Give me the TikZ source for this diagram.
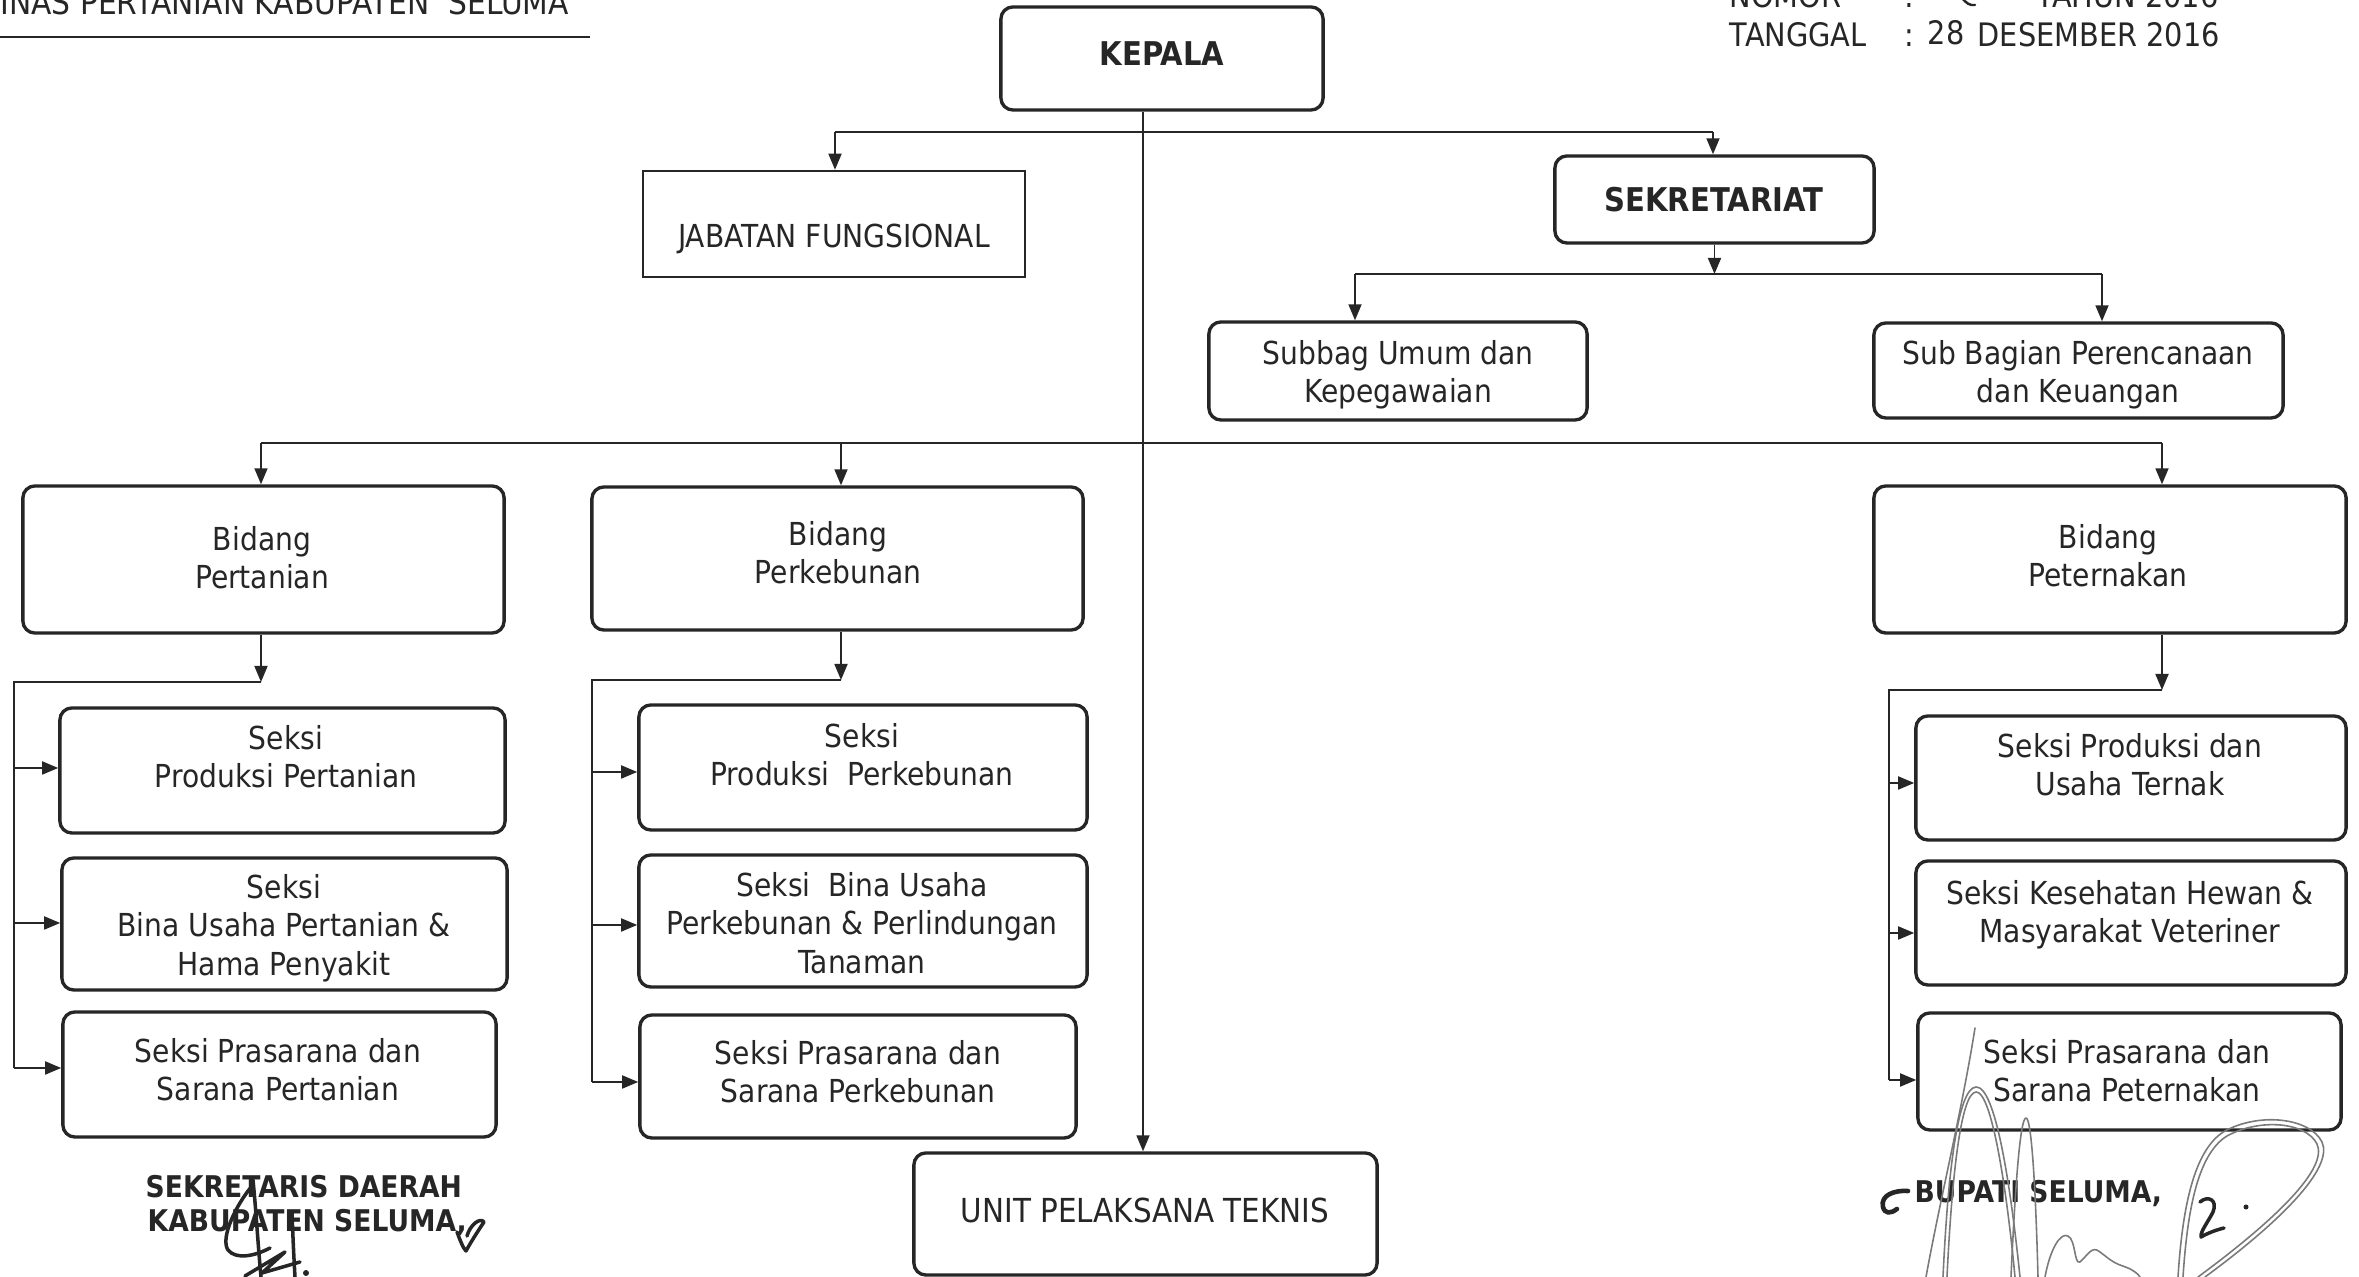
\documentclass[tikz,border=0pt]{standalone}
\usepackage{fontspec}
\setmainfont{DejaVu Sans}[FakeStretch=0.89]
\usetikzlibrary{arrows.meta}
\definecolor{ink}{HTML}{262626}
\definecolor{pencil}{HTML}{7A7A7A}
\tikzset{
  box/.style={draw=ink, line width=0.95pt, rounded corners=0.12cm, inner sep=0pt},
  plainbox/.style={draw=ink, line width=0.7pt, inner sep=0pt},
  txt/.style={text=ink, align=center, inner sep=0pt, font=\fontsize{9}{10.9}\selectfont},
  btxt/.style={text=ink, align=center, inner sep=0pt, font=\fontsize{9.3}{11}\selectfont\bfseries},
  hdr/.style={text=ink, inner sep=0pt, font=\fontsize{9.2}{11}\selectfont},
  sigtxt/.style={text=ink, inner sep=0pt, font=\fontsize{8.5}{9.6}\selectfont\bfseries},
  conn/.style={draw=ink, line width=0.5pt},
  arr/.style={conn, -{Triangle[length=0.16cm,width=0.13cm]}},
  pen/.style={draw=pencil, line width=0.45pt, line cap=round, line join=round},
  hand/.style={draw=ink, line width=1pt, line cap=round, line join=round},
}
\begin{document}
\begin{tikzpicture}[x=0.01cm, y=-0.01cm]
\useasboundingbox (0,0) rectangle (2359,1277);
\clip (0,0) rectangle (2359,1277);
\fill[white] (0,0) rectangle (2359,1277);

% ---------- headers ----------
\node[hdr, font=\fontsize{9.5}{11}\selectfont, anchor=base west] (dinas) at (-23,15) {DINAS PERTANIAN KABUPATEN\ \ SELUMA};
\draw[conn, line width=0.6pt] (0,37) -- (590,37);

\node[hdr, anchor=base west] (nomor) at (1729,8) {NOMOR};
\node[hdr, anchor=base west] (nomorc) at (1904,8) {:};
\node[hdr, anchor=base west] (tahun) at (2036,8) {TAHUN 2016};
\draw[hand, line width=0.7pt] (1962,-2) .. controls (1966,3) and (1970,6) .. (1975,5);
\node[hdr, anchor=base west] (tgl) at (1729,47) {TANGGAL};
\node[hdr, anchor=base west] (tglc) at (1904,47) {:};
\node[hdr, anchor=base west] (tglh) at (1927,45) {28};
\node[hdr, anchor=base west] (tglb) at (1977,47) {DESEMBER 2016};

% ---------- boxes ----------
\node[box, minimum width=3.22cm, minimum height=1.03cm] (kepala) at (1162,58.5) {};
\node[btxt] (kepala-t) at (1162,54) {KEPALA};

\node[plainbox, minimum width=3.82cm, minimum height=1.06cm] (jab) at (834,224) {};
\node[txt] (jab-t) at (834,239) {JABATAN FUNGSIONAL};

\node[box, minimum width=3.19cm, minimum height=0.87cm] (sek) at (1714.5,199.5) {};
\node[btxt] (sek-t) at (1714,200) {SEKRETARIAT};

\node[box, minimum width=3.78cm, minimum height=0.98cm] (subbag) at (1398,371) {};
\node[txt] (subbag-t) at (1398,375) {Subbag Umum dan\\Kepegawaian};

\node[box, minimum width=4.09cm, minimum height=0.95cm] (subbagb) at (2078.5,370.5) {};
\node[txt] (subbagb-t) at (2078,375) {Sub Bagian Perencanaan\\dan Keuangan};

\node[box, minimum width=4.81cm, minimum height=1.47cm] (bpt) at (263.5,559.5) {};
\node[txt] (bpt-t) at (262,558) {Bidang\\Pertanian};

\node[box, minimum width=4.91cm, minimum height=1.43cm] (bpk) at (837.5,558.5) {};
\node[txt] (bpk-t) at (838,553) {Bidang\\Perkebunan};

\node[box, minimum width=4.72cm, minimum height=1.47cm] (bpr) at (2110,559.5) {};
\node[txt] (bpr-t) at (2108,556) {Bidang\\Peternakan};

% Pertanian sections
\node[box, minimum width=4.45cm, minimum height=1.25cm] (pt1) at (282.5,770.5) {};
\node[txt] (pt1-t) at (286,757) {Seksi\\Produksi Pertanian};
\node[box, minimum width=4.45cm, minimum height=1.32cm] (pt2) at (284.5,924) {};
\node[txt] (pt2-t) at (284,928) {Seksi\\Bina Usaha Pertanian \&\\Hama Penyakit};
\node[box, minimum width=4.33cm, minimum height=1.25cm] (pt3) at (279.5,1074.5) {};
\node[txt] (pt3-t) at (278,1070) {Seksi Prasarana dan\\Sarana Pertanian};

% Perkebunan sections
\node[box, minimum width=4.48cm, minimum height=1.25cm] (pk1) at (863,767.5) {};
\node[txt] (pk1-t) at (862,755) {Seksi\\Produksi\ \ Perkebunan};
\node[box, minimum width=4.48cm, minimum height=1.32cm] (pk2) at (863,921) {};
\node[txt] (pk2-t) at (862,923) {Seksi\ \ Bina Usaha\\Perkebunan \& Perlindungan\\Tanaman};
\node[box, minimum width=4.36cm, minimum height=1.23cm] (pk3) at (858,1076.5) {};
\node[txt] (pk3-t) at (858,1072) {Seksi Prasarana dan\\Sarana Perkebunan};

% Peternakan sections
\node[box, minimum width=4.30cm, minimum height=1.24cm] (pr1) at (2131,778) {};
\node[txt] (pr1-t) at (2130,765) {Seksi Produksi dan\\Usaha Ternak};
\node[box, minimum width=4.30cm, minimum height=1.24cm] (pr2) at (2131,923) {};
\node[txt] (pr2-t) at (2130,915) {Seksi Kesehatan Hewan \&\\Masyarakat Veteriner};
\node[box, minimum width=4.23cm, minimum height=1.17cm] (pr3) at (2129.5,1071.5) {};
\node[txt] (pr3-t) at (2127,1071) {Seksi Prasarana dan\\Sarana Peternakan};

\node[box, minimum width=4.63cm, minimum height=1.22cm] (upt) at (1145.5,1214) {};
\node[txt, font=\fontsize{9.4}{11}\selectfont] (upt-t) at (1145,1210) {UNIT PELAKSANA TEKNIS};

% ---------- connectors ----------
\coordinate (kx) at (1143,132);
\draw[arr] (kepala.south -| kx) -- (upt.north -| kx);
\coordinate (ja) at (835,132);
\coordinate (jb) at (1713,132);
\draw[conn] (ja) -- (jb);
\draw[arr] (ja) -- (ja |- jab.north);
\draw[arr] (jb) -- (jb |- sek.north);

\coordinate (sa) at (1355,274);
\coordinate (sb) at (2102,274);
\draw[arr] (sek.south) -- (sek.south |- sa);
\draw[conn] (sa) -- (sb);
\draw[arr] (sa) -- (sa |- subbag.north);
\draw[arr] (sb) -- (sb |- subbagb.north);

\coordinate (ba) at (261,443);
\coordinate (bb) at (841,443);
\coordinate (bc) at (2162,443);
\draw[conn] (ba) -- (bc);
\draw[arr] (ba) -- (ba |- bpt.north);
\draw[arr] (bb) -- (bb |- bpk.north);
\draw[arr] (bc) -- (bc |- bpr.north);

% Pertanian bus
\coordinate (la) at (261,682);
\coordinate (lx) at (14,682);
\coordinate (l1) at (14,768);
\coordinate (l2) at (14,923);
\coordinate (l3) at (14,1068);
\draw[arr] (bpt.south -| la) -- (la);
\draw[conn] (la) -- (lx) -- (l3);
\draw[arr] (l1) -- (l1 -| pt1.west);
\draw[arr] (l2) -- (l2 -| pt2.west);
\draw[arr] (l3) -- (l3 -| pt3.west);

% Perkebunan bus
\coordinate (ma) at (841,680);
\coordinate (mx) at (592,680);
\coordinate (m1) at (592,772);
\coordinate (m2) at (592,925);
\coordinate (m3) at (592,1082);
\draw[arr] (bpk.south -| ma) -- (ma);
\draw[conn] (ma) -- (mx) -- (m3);
\draw[arr] (m1) -- (m1 -| pk1.west);
\draw[arr] (m2) -- (m2 -| pk2.west);
\draw[arr] (m3) -- (m3 -| pk3.west);

% Peternakan bus
\coordinate (ra) at (2162,690);
\coordinate (rx) at (1889,690);
\coordinate (r1) at (1889,783);
\coordinate (r2) at (1889,933);
\coordinate (r3) at (1889,1080);
\draw[arr] (bpr.south -| ra) -- (ra);
\draw[conn] (ra) -- (rx) -- (r3);
\draw[arr] (r1) -- (r1 -| pr1.west);
\draw[arr] (r2) -- (r2 -| pr2.west);
\draw[arr] (r3) -- (r3 -| pr3.west);

% ---------- signature blocks ----------
\node[sigtxt, anchor=base west] (sekda1) at (145,1198) {SEKRETARIS DAERAH};
\node[sigtxt, anchor=base west] (sekda2) at (147,1232) {KABUPATEN SELUMA,};
\node[sigtxt, anchor=base west] (bupati) at (1914,1203) {BUPATI SELUMA,};

% left initials
\draw[hand] (253,1180) .. controls (256,1210) and (258,1245) .. (261,1277);
\draw[hand] (252,1186) .. controls (236,1205) and (220,1238) .. (228,1250) .. controls (236,1260) and (255,1256) .. (270,1248);
\draw[hand] (245,1276) -- (285,1252) -- (262,1273) -- (300,1262);
\draw[hand] (292,1212) .. controls (293,1240) and (294,1260) .. (295,1277);
\fill[ink] (306,1273) circle (0.03cm);
\draw[hand] (457,1232) .. controls (460,1240) and (463,1248) .. (466,1251) .. controls (472,1240) and (480,1228) .. (484,1222) .. controls (480,1217) and (470,1225) .. (467,1236);

% right signature
\draw[pen] (1975,1028) .. controls (1962,1110) and (1940,1200) .. (1926,1277);
\draw[pen] (1943,1277) .. controls (1948,1170) and (1958,1088) .. (1976,1087) .. controls (1995,1086) and (2010,1180) .. (2020,1277);
\draw[pen] (1947,1277) .. controls (1952,1174) and (1961,1093) .. (1976,1092) .. controls (1991,1091) and (2006,1182) .. (2015,1277);
\draw[pen] (2011,1277) .. controls (2015,1190) and (2020,1118) .. (2026,1118) .. controls (2032,1118) and (2036,1200) .. (2038,1277);
\draw[pen] (2045,1277) .. controls (2050,1250) and (2060,1232) .. (2068,1236) .. controls (2076,1240) and (2074,1265) .. (2080,1262) .. controls (2088,1255) and (2092,1245) .. (2100,1252) .. controls (2108,1258) and (2112,1262) .. (2120,1265) .. controls (2128,1268) and (2135,1270) .. (2140,1277);
\draw[pen] (2178,1277) .. controls (2182,1215) and (2192,1150) .. (2225,1131) .. controls (2260,1112) and (2310,1118) .. (2322,1142) .. controls (2334,1168) and (2280,1222) .. (2205,1277);
\draw[pen] (2183,1277) .. controls (2187,1217) and (2196,1155) .. (2227,1136) .. controls (2260,1118) and (2306,1122) .. (2317,1144) .. controls (2328,1168) and (2278,1218) .. (2198,1277);
\draw[hand] (2200,1202) .. controls (2208,1195) and (2218,1200) .. (2213,1212) .. controls (2208,1222) and (2200,1232) .. (2201,1237) .. controls (2208,1233) and (2216,1230) .. (2224,1228);
\fill[ink] (2246,1207) circle (0.025cm);
\draw[hand, line width=1.3pt] (1908,1191) .. controls (1895,1190) and (1880,1195) .. (1883,1207) .. controls (1885,1214) and (1890,1214) .. (1897,1209);
\end{tikzpicture}
\end{document}
